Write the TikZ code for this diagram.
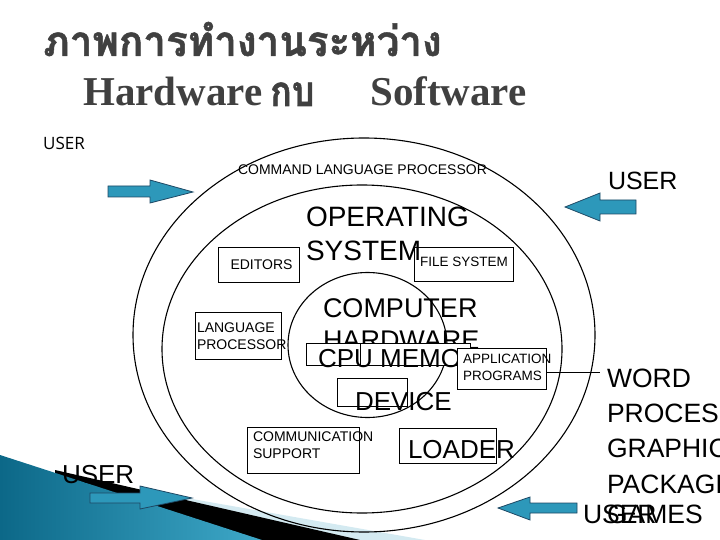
\documentclass[tikz,border=0pt]{standalone}
\usepackage{fontspec}
\usepackage{graphicx}
\usetikzlibrary{shapes.geometric}
\newfontfamily\arialf{Liberation Sans}
\newfontfamily\timesf{Liberation Serif}
\newfontfamily\thaif[Script=Thai, BoldFeatures={FakeBold=1.2}]{Loma}
\newfontfamily\osans{Open Sans}
\definecolor{titlegray}{RGB}{64,64,64}
\definecolor{arrowfill}{RGB}{45,152,186}
\definecolor{arrowline}{RGB}{30,72,100}
\definecolor{tealdark}{RGB}{12,104,136}
\definecolor{teallight}{RGB}{62,168,200}
\definecolor{palestripe}{RGB}{212,234,241}
\newcommand{\fs}[1]{\fontsize{#1bp}{#1bp}\selectfont}
\tikzset{
  ring/.style={draw, ellipse, line width=1.1bp, inner sep=0pt, outer sep=0pt},
  box/.style={draw, line width=0.8bp, inner sep=0pt, outer sep=0pt},
  wbox/.style={box, fill=white},
  lbl/.style={anchor=base west, inner sep=0pt, outer sep=0pt, font=\arialf},
  blockarrow/.style={fill=arrowfill, draw=arrowline, line width=0.8bp},
}
\begin{document}
\begin{tikzpicture}[x=1bp, y=-1bp]
\useasboundingbox (0,0) rectangle (720,540);
\begin{scope}
\clip (0,0) rectangle (720,540);
% background swoosh
\fill[palestripe] (90,481) -- (425,540) -- (90,540) -- cycle;
\fill[black] (55,470) -- (360,540) -- (55,540) -- cycle;
\shade[left color=tealdark, right color=teallight] (0,455) -- (262,540) -- (0,540) -- cycle;

% title
\node[anchor=base west, inner sep=0pt, text=titlegray] (title) at (43,56)
  {\scalebox{0.96}[1]{\thaif\bfseries\fs{42}ภาพการทำงานระหว่าง}};
\node[anchor=base west, inner sep=0pt, text=titlegray] (hw) at (83,106)
  {\timesf\bfseries\fs{41}Hardware};
\node[anchor=base west, inner sep=0pt, text=titlegray] (kb) at (270,106)
  {\scalebox{0.85}[1]{\thaif\bfseries\fs{42}กบ}};
\node[anchor=base west, inner sep=0pt, text=titlegray] (sw) at (370,106)
  {\timesf\bfseries\fs{41}Software};

% rings
\node[ring, minimum width=462bp, minimum height=394bp] (outer) at (364,335) {};
\node[ring, minimum width=400bp, minimum height=328bp] (middle) at (362,349) {};
\node[ring, minimum width=159bp, minimum height=145bp] (inner) at (367.5,345) {};

% block arrows
\filldraw[blockarrow] (108,186) -- (150,186) -- (150,180) -- (193,192) -- (150,203) -- (150,197) -- (108,197) -- cycle;
\filldraw[blockarrow] (636,200) -- (600,200) -- (600,193) -- (565,207) -- (600,221) -- (600,214) -- (636,214) -- cycle;
\filldraw[blockarrow] (90,493) -- (140,493) -- (140,486) -- (192,498) -- (140,509) -- (140,503) -- (90,503) -- cycle;
\filldraw[blockarrow] (577,503) -- (530,503) -- (530,497) -- (498,508) -- (530,520) -- (530,513) -- (577,513) -- cycle;

% USER labels
\node[anchor=base west, inner sep=0pt] (usertl) at (43,150) {\osans\fs{17}USER};
\node[lbl] (usertr) at (608,190) {\fs{25}USER};
\node[lbl] (userbl) at (62,483) {\fs{26}USER};

% outer layer
\node[lbl] (clp) at (238,175) {\fs{14}COMMAND LANGUAGE PROCESSOR};

% middle layer
\node[lbl] (os1) at (306,227) {\fs{28}OPERATING};
\node[lbl] (os2) at (306,261) {\fs{28}SYSTEM};

\node[box, minimum width=81bp, minimum height=35bp] (edbox) at (258.5,264.5) {};
\node[anchor=base, inner sep=0pt, font=\arialf] (ed) at (261.5,270) {\fs{14}EDITORS};

\node[box, minimum width=99bp, minimum height=34bp] (fsbox) at (463.5,264) {};
\node[anchor=base, inner sep=0pt, font=\arialf] (fsys) at (464,267) {\fs{13.5}FILE SYSTEM};

\node[box, minimum width=86bp, minimum height=47bp] (lpbox) at (238,335.5) {};
\node[lbl] (lp1) at (197,332) {\fs{14}LANGUAGE};
\node[lbl] (lp2) at (197,349) {\fs{14}PROCESSOR};

\node[box, minimum width=112bp, minimum height=46bp] (csbox) at (303,450) {};
\node[lbl] (cs1) at (253,441) {\fs{14}COMMUNICATION};
\node[lbl] (cs2) at (253,458) {\fs{14}SUPPORT};

\node[box, minimum width=97bp, minimum height=35bp] (ldbox) at (447.5,445.5) {};
\node[lbl] (ld) at (408,458) {\fs{26}LOADER};

% inner core
\node[lbl] (ch1) at (323,317) {\fs{27}COMPUTER};
\node[lbl] (ch2) at (323,349) {\fs{27}HARDWARE};
\node[wbox, minimum width=54bp, minimum height=22bp] (cpubox) at (333,354) {};
\node[wbox, minimum width=110bp, minimum height=22bp] (membox) at (415,354) {};
\node[lbl] (cpumem) at (318,367) {\fs{26}CPU MEMORY};

\node[box, minimum width=70bp, minimum height=28bp] (devbox) at (372,392) {};
\node[lbl] (dev) at (355,410) {\fs{26}DEVICE};

% application programs
\node[wbox, minimum width=89bp, minimum height=41bp] (appbox) at (501.5,368.5) {};
\node[lbl] (ap1) at (463,363) {\fs{13.5}APPLICATION};
\node[lbl] (ap2) at (463,380) {\fs{13.5}PROGRAMS};
\coordinate (wpend) at (600,372);
\draw[line width=0.8bp] (appbox.east |- wpend) -- (wpend);

% applications list
\node[lbl] (a1) at (607,387) {\fs{26.5}WORD};
\node[lbl] (a2) at (607,422) {\fs{26.5}PROCESSING};
\node[lbl] (a3) at (607,457) {\fs{26.5}GRAPHICS};
\node[lbl] (a4) at (607,493) {\fs{26.5}PACKAGES};
\node[lbl] (a5) at (607,523) {\fs{26.5}GAMES};
\node[lbl] (userbr) at (583,523) {\fs{26.5}USER};
\end{scope}
\end{tikzpicture}
\end{document}
